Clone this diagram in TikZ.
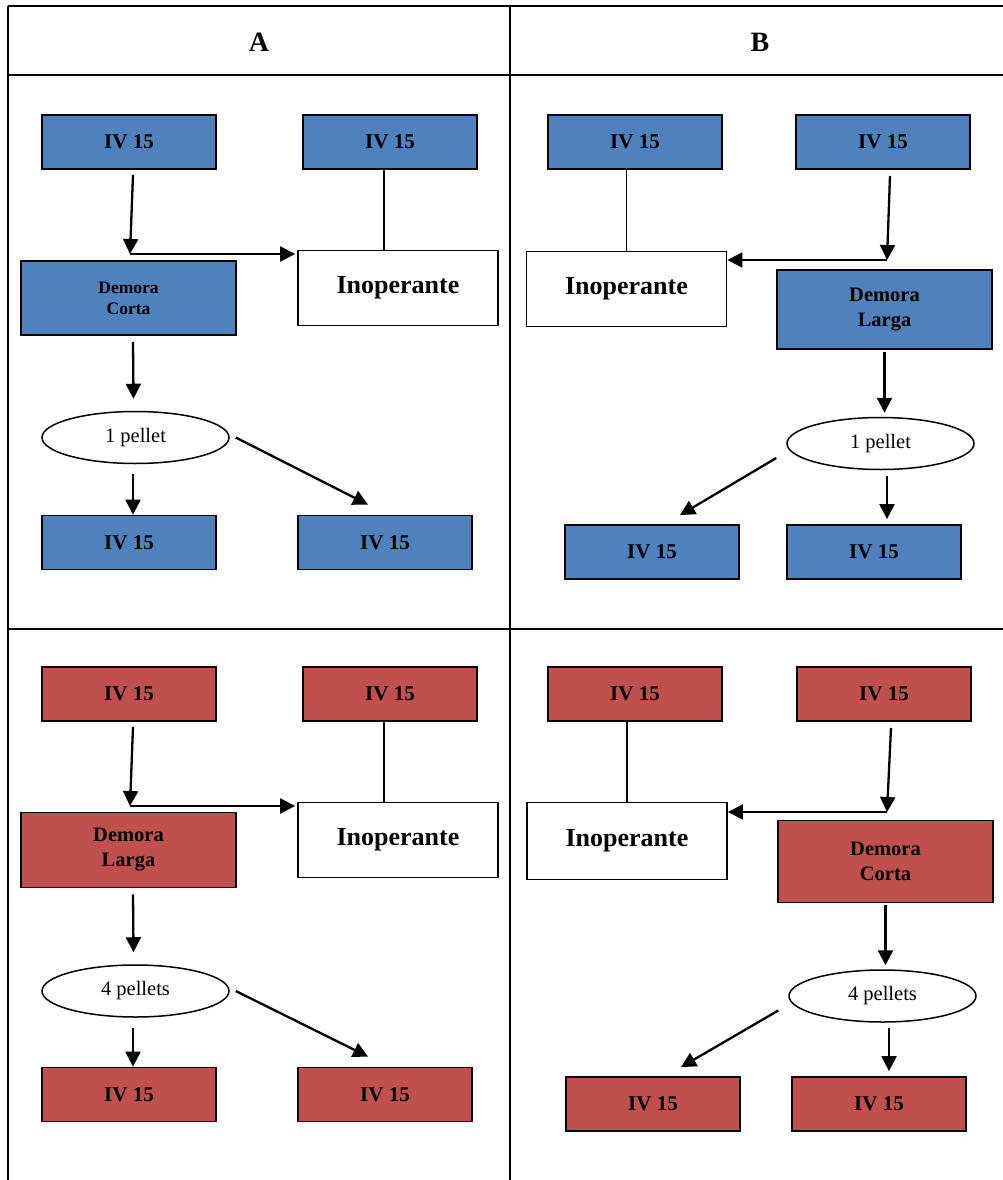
\documentclass[tikz,border=0pt]{standalone}
\usepackage{fontspec}
\setmainfont{Liberation Serif}
\usetikzlibrary{shapes.geometric,arrows.meta,calc}
\definecolor{boxblue}{HTML}{4F81BD}
\definecolor{boxred}{HTML}{C0504D}
\begin{document}
\begin{tikzpicture}[x=1pt,y=-1pt,
  basebox/.style={draw=black,line width=1.8pt,rectangle,inner sep=0pt,align=center},
  ivbox/.style={basebox,minimum width=174pt,minimum height=54pt,font=\fontsize{21}{24}\selectfont\bfseries},
  delaysmall/.style={basebox,minimum width=215pt,minimum height=74pt,font=\fontsize{17.5}{21}\selectfont\bfseries},
  delaybig/.style={basebox,minimum width=215pt,minimum height=79pt,font=\fontsize{20.5}{25}\selectfont\bfseries},
  inop/.style={basebox,fill=white,minimum width=200pt,minimum height=75pt,font=\fontsize{26}{30}\selectfont\bfseries},
  pellet/.style={draw=black,line width=1.5pt,ellipse,inner sep=0pt,minimum width=187pt,minimum height=52pt,font=\fontsize{20.5}{24}\selectfont},
  arr/.style={line width=2.3pt,-{Triangle[length=15pt,width=15pt]}},
  plainln/.style={line width=1.5pt},
  tbl/.style={line width=1.7pt},
  hdr/.style={font=\fontsize{28}{30}\selectfont\bfseries}
]
\useasboundingbox (0,0) rectangle (1003,1180);
% table
\draw[tbl] (8,6) -- (1010,6);
\draw[tbl] (8,75) -- (1010,75);
\draw[tbl] (8,629) -- (1010,629);
\draw[tbl] (8,6) -- (8,1190);
\draw[tbl] (510,6) -- (510,1190);
\node[hdr] (hA) at (259,42) {A};
\node[hdr] (hB) at (760,42) {B};

% ---------- Panel A top ----------
\node[ivbox,fill=boxblue] (a1) at (129,142) {IV 15};
\node[ivbox,fill=boxblue] (a2) at (390,142) {IV 15};
\node[delaysmall,fill=boxblue] (ad) at (128.5,298) {Demora\\Corta};
\node[inop] (ai) at (398,288) {Inoperante};
\node[pellet] (ae) at (135.5,437.5) {1 pellet};
\node[ivbox,fill=boxblue] (ab1) at (129,542.5) {IV 15};
\node[ivbox,fill=boxblue] (ab2) at (385,542.5) {IV 15};
\coordinate (aj) at (130,254);
\draw[arr] ([xshift=4pt,yshift=-5pt]a1.south) -- (aj);
\draw[arr,shorten >=2pt] (aj) -- (ai.west |- aj);
\draw[plainln] ([xshift=-6pt]a2.south) -- ([xshift=-6pt]a2.south |- ai.north);
\draw[arr] ([xshift=4.5pt,yshift=-6pt]ad.south) -- ([xshift=-2pt,yshift=12pt]ae.north);
\draw[arr] ([xshift=-2.5pt,yshift=-10pt]ae.south) -- ([xshift=-2.5pt]ae.south |- ab1.north);
\draw[arr] ([xshift=6pt]ae.east) -- ([xshift=-17pt,yshift=10pt]ab2.north);

% ---------- Panel B top ----------
\node[ivbox,fill=boxblue] (b1) at (635,142) {IV 15};
\node[ivbox,fill=boxblue] (b2) at (883,142) {IV 15};
\node[inop] (bi) at (626.5,289) {Inoperante};
\node[delaybig,fill=boxblue] (bd) at (884.5,309.5) {Demora\\Larga};
\node[pellet] (be) at (880.5,443.5) {1 pellet};
\node[ivbox,fill=boxblue] (bb1) at (652,552) {IV 15};
\node[ivbox,fill=boxblue] (bb2) at (874,552) {IV 15};
\coordinate (bj) at (887,260);
\draw[plainln] (b1.south -| bi.north) -- (bi.north);
\draw[arr] ([xshift=7pt,yshift=-6pt]b2.south) -- (bj);
\draw[arr] (bj) -- (bi.east |- bj);
\draw[arr] ([yshift=-2pt]bd.south) -- ([yshift=4pt]be.north -| bd.south);
\draw[arr] ([xshift=-10pt,yshift=-14.5pt]be.west) -- ([xshift=28pt,yshift=9pt]bb1.north);
\draw[arr,shorten >=5pt] ([xshift=6.5pt,yshift=-5.5pt]be.south) -- ([xshift=6.5pt]be.south |- bb2.north);

% ---------- Panel A bottom ----------
\begin{scope}[yshift=-552pt]
\node[ivbox,fill=boxred] (c1) at (129,142) {IV 15};
\node[ivbox,fill=boxred] (c2) at (390,142) {IV 15};
\node[delaybig,fill=boxred,minimum height=75pt] (cd) at (128.5,298) {Demora\\Larga};
\node[inop] (ci) at (398,288) {Inoperante};
\node[pellet] (ce) at (135.5,439) {4 pellets};
\node[ivbox,fill=boxred] (cb1) at (129,542.5) {IV 15};
\node[ivbox,fill=boxred] (cb2) at (385,542.5) {IV 15};
\coordinate (cj) at (130,254);
\draw[arr] ([xshift=4pt,yshift=-5pt]c1.south) -- (cj);
\draw[arr,shorten >=2pt] (cj) -- (ci.west |- cj);
\draw[plainln] ([xshift=-6pt]c2.south) -- ([xshift=-6pt]c2.south |- ci.north);
\draw[arr] ([xshift=4.5pt,yshift=-6pt]cd.south) -- ([xshift=-2pt,yshift=12pt]ce.north);
\draw[arr] ([xshift=-2.5pt,yshift=-10pt]ce.south) -- ([xshift=-2.5pt]ce.south |- cb1.north);
\draw[arr] ([xshift=6pt]ce.east) -- ([xshift=-17pt,yshift=10pt]cb2.north);
\end{scope}

% ---------- Panel B bottom ----------
\begin{scope}[yshift=-552pt]
\node[ivbox,fill=boxred] (d1) at (635,142) {IV 15};
\node[ivbox,fill=boxred] (d2) at (884,142) {IV 15};
\node[inop,minimum height=77pt] (di) at (627,289) {Inoperante};
\node[delaybig,fill=boxred,minimum height=82pt] (dd) at (885.5,309.5) {Demora\\Corta};
\node[pellet] (de) at (882.5,444) {4 pellets};
\node[ivbox,fill=boxred] (db1) at (653,552) {IV 15};
\node[ivbox,fill=boxred] (db2) at (879,552) {IV 15};
\coordinate (dj) at (887,260);
\draw[plainln] (d1.south -| di.north) -- (di.north);
\draw[arr] ([xshift=7pt,yshift=-6pt]d2.south) -- (dj);
\draw[arr] (dj) -- (di.east |- dj);
\draw[arr] ([yshift=-2pt]dd.south) -- ([yshift=4pt]de.north -| dd.south);
\draw[arr] ([xshift=-10pt,yshift=-14.5pt]de.west) -- ([xshift=28pt,yshift=9pt]db1.north);
\draw[arr,shorten >=5pt] ([xshift=6.5pt,yshift=-5.5pt]de.south) -- ([xshift=6.5pt]de.south |- db2.north);
\end{scope}
\end{tikzpicture}
\end{document}
